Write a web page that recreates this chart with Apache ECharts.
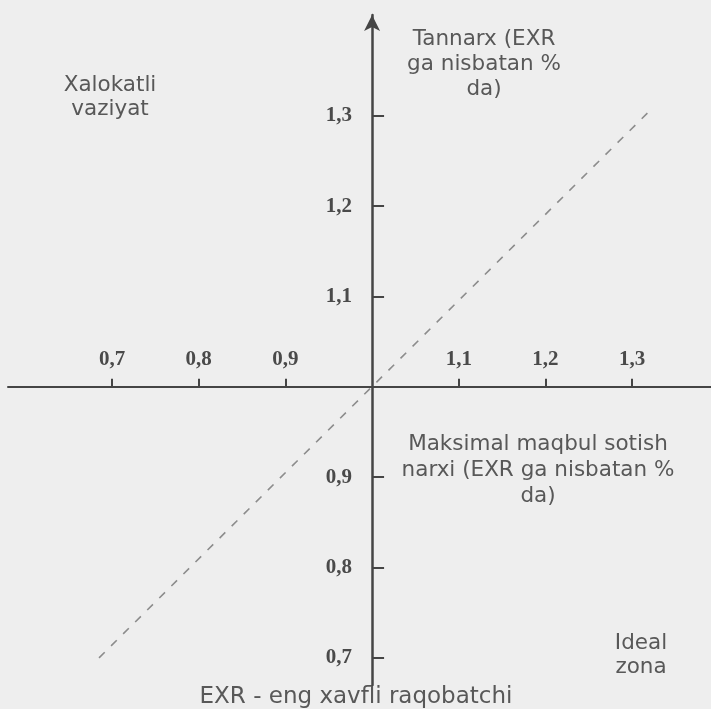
<!DOCTYPE html>
<html>
<head>
<meta charset="utf-8">
<script src="https://cdn.jsdelivr.net/npm/echarts@6/dist/echarts.min.js"></script>
<style>
html,body{margin:0;padding:0;background:#eeeeee;}
#chart{width:711px;height:709px;}
</style>
</head>
<body>
<div id="chart"></div>
<script>
// Axis extents (value units)
const xMin = 0.58, xMax = 1.391;
const yMin = 0.67, yMax = 1.4115;
const crossValue = 1.0;            // where the two axes cross
// Tick values shown on each axis
const xTicks = [0.7, 0.8, 0.9, 1.1, 1.2, 1.3];
const yTicks = [0.7, 0.8, 0.9, 1.1, 1.2, 1.3];
// Dashed reference line (x, y) end points
const lineX = [0.685, 1.325];
const lineY = [0.70, 1.31];
// Annotation texts
const txtTop = 'Tannarx (EXR\nga nisbatan %\nda)';
const txtDanger = 'Xalokatli\nvaziyat';
const txtMax = 'Maksimal maqbul sotish\nnarxi (EXR ga nisbatan %\nda)';
const txtIdeal = 'Ideal\nzona';
const txtBottom = 'EXR - eng xavfli raqobatchi';

const W = 711, H = 709;
const grid = {left: 8, right: 0, top: 15, bottom: 24};
const gridW = W - grid.left - grid.right;
const gridH = H - grid.top - grid.bottom;
const xOffset = -(crossValue - yMin) / (yMax - yMin) * gridH;
const yOffset = -(crossValue - xMin) / (xMax - xMin) * gridW;

const fmt = v => v.toFixed(1).replace('.', ',');
const axisColor = '#454545';
const labelFont = {fontFamily: 'Liberation Serif', fontSize: 21, fontWeight: 'bold', color: '#4a4a4a'};
const textStyle = (t, x, y, lh, size) => ({
  type: 'text', x: x, y: y, silent: true,
  style: {text: t, textAlign: 'center', textVerticalAlign: 'middle',
    font: (size || 21) + 'px "DejaVu Sans"', fill: '#585858', lineHeight: lh}
});

const chart = echarts.init(document.getElementById('chart'), null, {renderer: 'canvas'});
chart.setOption({
  backgroundColor: '#eeeeee',
  animation: false,
  grid: grid,
  xAxis: {
    type: 'value', min: xMin, max: xMax, position: 'bottom', offset: xOffset,
    axisLine: {onZero: false, lineStyle: {color: axisColor, width: 2}},
    axisTick: {show: true, inside: true, length: 8, customValues: xTicks,
      lineStyle: {color: axisColor, width: 2}},
    axisLabel: Object.assign({inside: true, margin: 17, customValues: xTicks, formatter: fmt}, labelFont),
    splitLine: {show: false}
  },
  yAxis: {
    type: 'value', min: yMin, max: yMax, position: 'left', offset: yOffset,
    axisLine: {onZero: false, symbol: ['none', 'arrow'], symbolSize: [12, 16],
      lineStyle: {color: axisColor, width: 2.5}},
    axisTick: {show: true, inside: true, length: 12, customValues: yTicks,
      lineStyle: {color: axisColor, width: 2}},
    axisLabel: Object.assign({margin: 20, customValues: yTicks, formatter: fmt}, labelFont),
    splitLine: {show: false}
  },
  series: [{
    type: 'line', silent: true, symbol: 'none',
    data: lineX.map((x, i) => [x, lineY[i]]),
    lineStyle: {type: [8, 9], color: '#8c8c8c', width: 1.6}
  }],
  graphic: [
    textStyle(txtTop, 484, 64, 25, 21.5),
    textStyle(txtDanger, 110, 97, 24, 21.5),
    textStyle(txtMax, 538, 470, 26, 21.5),
    textStyle(txtIdeal, 641, 655, 24, 21.5),
    textStyle(txtBottom, 356, 697, 24, 23)
  ]
});
</script>
</body>
</html>
